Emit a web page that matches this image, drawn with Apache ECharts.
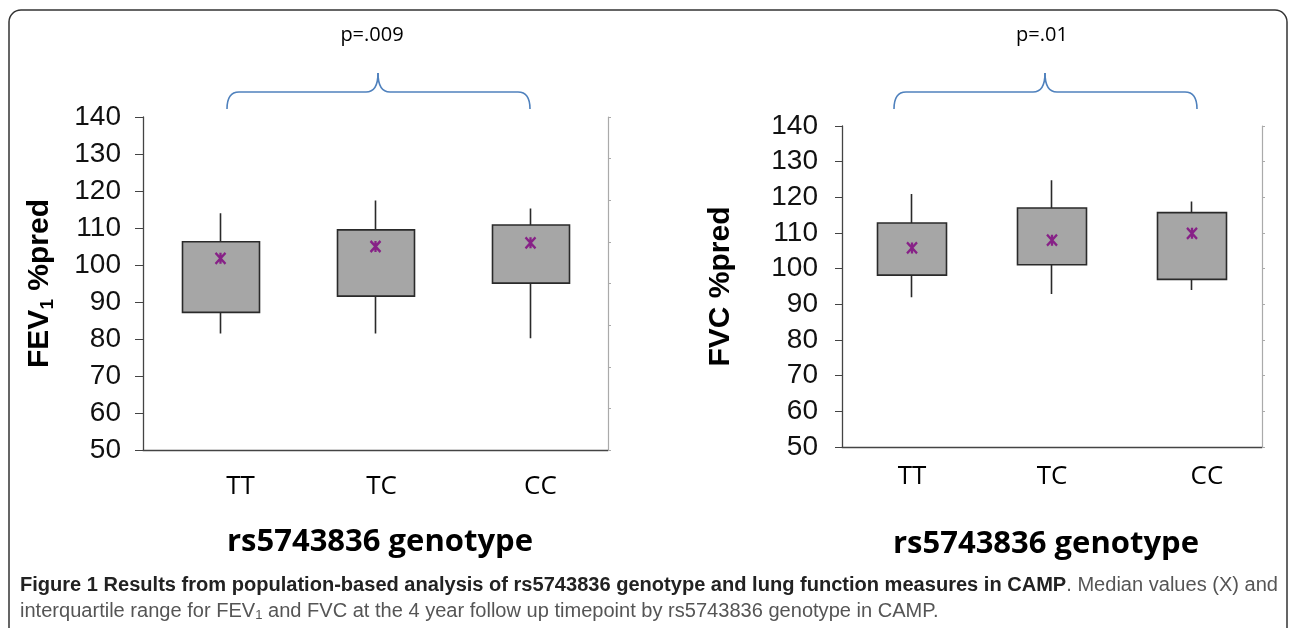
<!DOCTYPE html>
<html>
<head>
<meta charset="utf-8">
<script src="https://cdn.jsdelivr.net/npm/echarts@6/dist/echarts.min.js"></script>
<style>
html,body{margin:0;padding:0;background:#fff;}
#chart{width:1290px;height:628px;}
</style>
</head>
<body>
<div id="chart"></div>
<script>
// ---------------- data ----------------
var categories = ['TT', 'TC', 'CC'];
var yTicks = [50, 60, 70, 80, 90, 100, 110, 120, 130, 140];

var fev1Min    = [81.5, 81.5, 80.2];
var fev1Q1     = [87.2, 91.6, 95.1];
var fev1Median = [101.8, 105.0, 106.0];
var fev1Q3     = [106.3, 109.5, 110.8];
var fev1Max    = [114.0, 117.4, 115.3];

var fvcMin    = [92.0, 92.9, 94.0];
var fvcQ1     = [98.2, 101.1, 97.0];
var fvcMedian = [105.8, 108.0, 109.9];
var fvcQ3     = [112.8, 117.0, 115.7];
var fvcMax    = [120.9, 124.8, 118.8];

var pLeft = 'p=.009';
var pRight = 'p=.01';
var xTitle = 'rs5743836 genotype';
var captionBold = 'Figure 1 Results from population-based analysis of rs5743836 genotype and lung function measures in CAMP';
var captionReg1 = '. Median values (X) and';
var captionReg2a = 'interquartile range for FEV';
var captionReg2b = ' and FVC at the 4 year follow up timepoint by rs5743836 genotype in CAMP.';

// ---------------- helpers ----------------
function candle(q1, q3, mn, mx) {
  return q1.map(function (v, i) { return [v, q3[i], mn[i], mx[i]]; });
}
var numFont = '"Liberation Sans", Arial, sans-serif';
var calFont = '"Open Sans", "Noto Sans", sans-serif';
var capFont = '"Liberation Sans Narrow", "Liberation Sans", sans-serif';
var capSize = 20;

function catLabel(offsets, margin) {
  var rich = {};
  offsets.forEach(function (o, i) {
    rich['c' + i] = { fontFamily: calFont, fontSize: 26, color: '#000', padding: [0, 0, 0, o * 2] };
  });
  return {
    margin: margin,
    formatter: function (v, i) { return '{c' + i + '|' + v + '}'; },
    rich: rich
  };
}

function brace(x1, xm, x2, yTop, yMid, yBot) {
  var st = { fill: 'none', stroke: '#4f81bd', lineWidth: 1.6 };
  var r = 12;
  function bz(a, b, c, d, e, f) {
    return { type: 'bezierCurve', shape: { x1: a, y1: b, cpx1: c, cpy1: d, x2: e, y2: f }, style: st, silent: true };
  }
  function ln(a, b, c, d) {
    return { type: 'line', shape: { x1: a, y1: b, x2: c, y2: d }, style: st, silent: true };
  }
  return [
    bz(x1, yBot, x1, yMid, x1 + r, yMid),
    ln(x1 + r, yMid, xm - r, yMid),
    bz(xm - r, yMid, xm, yMid, xm, yTop),
    bz(xm, yTop, xm, yMid, xm + r, yMid),
    ln(xm + r, yMid, x2 - r, yMid),
    bz(x2 - r, yMid, x2, yMid, x2, yBot)
  ];
}

var asterisk = 'path://M0,0L10,10M10,0L0,10M5,0L5,10';
var starMarker = {
  symbol: asterisk, symbolSize: [10, 11],
  itemStyle: { color: 'rgba(0,0,0,0)', borderColor: '#800080', borderWidth: 2.4 }
};

// measure caption to fit width
var cv = document.createElement('canvas').getContext('2d');
cv.font = 'bold ' + capSize + 'px ' + capFont;
var wB = cv.measureText(captionBold).width;
cv.font = capSize + 'px ' + capFont;
var wR = cv.measureText(captionReg1).width;
var capScale = 1258 / (wB + wR);

var graphics = [
  { type: 'rect', shape: { x: 9, y: 10, width: 1278, height: 660, r: 12 },
    style: { fill: 'none', stroke: '#333', lineWidth: 1.5 }, silent: true },
  { type: 'text', x: 372, y: 35, style: { text: pLeft, font: '20px ' + calFont, fill: '#000', textAlign: 'center', textVerticalAlign: 'middle' } },
  { type: 'text', x: 1042, y: 35, style: { text: pRight, font: '20px ' + calFont, fill: '#000', textAlign: 'center', textVerticalAlign: 'middle' } },
  { type: 'text', x: 380, y: 542, style: { text: xTitle, font: 'bold 31px ' + calFont, fill: '#000', textAlign: 'center', textVerticalAlign: 'middle' } },
  { type: 'text', x: 1046, y: 544, style: { text: xTitle, font: 'bold 31px ' + calFont, fill: '#000', textAlign: 'center', textVerticalAlign: 'middle' } },
  { type: 'text', x: 20, y: 585, scaleX: capScale, originX: 0,
    style: {
      text: '{b|' + captionBold + '}{r|' + captionReg1 + '}',
      textVerticalAlign: 'middle',
      rich: {
        b: { fontFamily: capFont, fontSize: capSize, fontWeight: 'bold', fill: '#222' },
        r: { fontFamily: capFont, fontSize: capSize, fill: '#555' }
      }
    } },
  { type: 'text', x: 20, y: 611, scaleX: capScale, originX: 0,
    style: {
      text: '{r|' + captionReg2a + '}{s|1}{r|' + captionReg2b + '}',
      textVerticalAlign: 'middle',
      rich: {
        r: { fontFamily: capFont, fontSize: capSize, fill: '#555' },
        s: { fontFamily: capFont, fontSize: 13, fill: '#555', padding: [9, 0, 0, 0] }
      }
    } }
].concat(brace(227, 378, 530, 73, 92, 109)).concat(brace(894, 1045, 1197, 73, 92, 109));

var chart = echarts.init(document.getElementById('chart'));
var option = {
  animation: false,
  backgroundColor: '#fff',
  grid: [
    { left: 143, top: 117, width: 465, height: 333 },
    { left: 842, top: 126, width: 420, height: 321 }
  ],
  xAxis: [
    {
      type: 'category', gridIndex: 0, data: categories,
      axisLine: { lineStyle: { color: '#444', width: 1.3 } },
      axisTick: { length: 4, lineStyle: { color: '#666' } },
      axisLabel: catLabel([20, 6, 10], 24)
    },
    {
      type: 'category', gridIndex: 1, data: categories,
      axisLine: { lineStyle: { color: '#444', width: 1.3 } },
      axisTick: { length: 4, lineStyle: { color: '#666' } },
      axisLabel: catLabel([0, 0, 15], 17)
    }
  ],
  yAxis: [
    {
      type: 'value', gridIndex: 0, min: yTicks[0], max: yTicks[yTicks.length - 1], interval: 10,
      position: 'left',
      name: 'FEV{s|1} %pred', nameLocation: 'middle', nameRotate: 90, nameGap: 86,
      nameTextStyle: {
        fontFamily: numFont, fontSize: 30, fontWeight: 'bold', color: '#000',
        rich: { s: { fontFamily: numFont, fontSize: 19, fontWeight: 'bold', color: '#000', padding: [16, 0, 0, 0] } }
      },
      axisLine: { show: true, lineStyle: { color: '#444', width: 1.3 } },
      axisTick: { show: true, length: 8, lineStyle: { color: '#444' } },
      axisLabel: { fontFamily: numFont, fontSize: 28, color: '#111', margin: 22 },
      splitLine: { show: false }
    },
    {
      type: 'value', gridIndex: 0, min: 0, max: 8, interval: 1, position: 'right',
      axisLine: { show: true, lineStyle: { color: '#aaa', width: 1.2 } },
      axisTick: { show: true, length: 3, lineStyle: { color: '#aaa' } },
      axisLabel: { show: false }, splitLine: { show: false }
    },
    {
      type: 'value', gridIndex: 1, min: yTicks[0], max: yTicks[yTicks.length - 1], interval: 10,
      position: 'left',
      name: 'FVC %pred', nameLocation: 'middle', nameRotate: 90, nameGap: 106,
      nameTextStyle: { fontFamily: numFont, fontSize: 30, fontWeight: 'bold', color: '#000' },
      axisLine: { show: true, lineStyle: { color: '#444', width: 1.3 } },
      axisTick: { show: true, length: 7, lineStyle: { color: '#444' } },
      axisLabel: { fontFamily: numFont, fontSize: 28, color: '#111', margin: 24 },
      splitLine: { show: false }
    },
    {
      type: 'value', gridIndex: 1, min: yTicks[0], max: yTicks[yTicks.length - 1], interval: 10,
      position: 'right',
      axisLine: { show: true, lineStyle: { color: '#aaa', width: 1.2 } },
      axisTick: { show: true, length: 3, lineStyle: { color: '#aaa' } },
      axisLabel: { show: false }, splitLine: { show: false }
    }
  ],
  series: [
    {
      type: 'candlestick', xAxisIndex: 0, yAxisIndex: 0, barWidth: '50%',
      data: candle(fev1Q1, fev1Q3, fev1Min, fev1Max),
      itemStyle: { color: '#a6a6a6', color0: '#a6a6a6', borderColor: '#2a2a2a', borderColor0: '#2a2a2a', borderWidth: 1.6 }
    },
    Object.assign({
      type: 'scatter', xAxisIndex: 0, yAxisIndex: 0, data: fev1Median, z: 5
    }, starMarker),
    {
      type: 'candlestick', xAxisIndex: 1, yAxisIndex: 2, barWidth: '50%',
      data: candle(fvcQ1, fvcQ3, fvcMin, fvcMax),
      itemStyle: { color: '#a6a6a6', color0: '#a6a6a6', borderColor: '#2a2a2a', borderColor0: '#2a2a2a', borderWidth: 1.6 }
    },
    Object.assign({
      type: 'scatter', xAxisIndex: 1, yAxisIndex: 2, data: fvcMedian, z: 5
    }, starMarker)
  ],
  graphic: graphics
};
chart.setOption(option);
</script>
</body>
</html>
